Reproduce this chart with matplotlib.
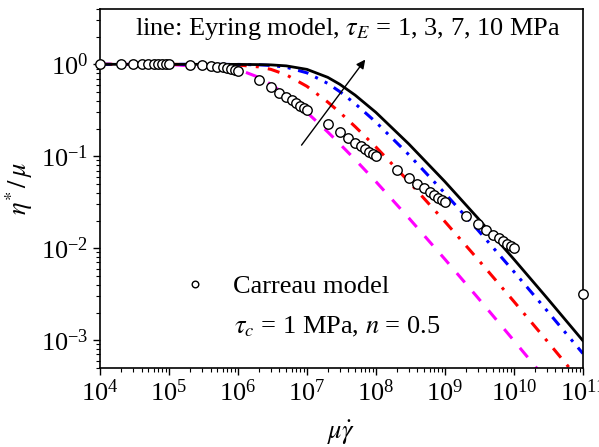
import matplotlib
matplotlib.use('Agg')
import matplotlib.pyplot as plt
from matplotlib.ticker import LogLocator, NullFormatter
import numpy as np

plt.rcParams['font.family'] = ['Liberation Serif', 'DejaVu Serif']
plt.rcParams['mathtext.fontset'] = 'stix'

# Carreau model points (tau_c = 1 MPa, n = 0.5)
carreau_x = [1e4, 2e4, 3e4, 4e4, 5e4, 6e4, 7e4, 8e4, 9e4, 1e5,
             2e5, 3e5, 4e5, 5e5, 6e5, 7e5, 8e5, 9e5, 1e6,
             2e6, 3e6, 4e6, 5e6, 6e6, 7e6, 8e6, 9e6, 1e7,
             2e7, 3e7, 4e7, 5e7, 6e7, 7e7, 8e7, 9e7, 1e8,
             2e8, 3e8, 4e8, 5e8, 6e8, 7e8, 8e8, 9e8, 1e9,
             2e9, 3e9, 4e9, 5e9, 6e9, 7e9, 8e9, 9e9, 1e10,
             1e11]
carreau_y = [1.0, 1.0, 1.0, 1.0, 1.0, 1.0, 1.0, 1.0, 1.0, 0.997,
             0.990, 0.979, 0.964, 0.946, 0.926, 0.905, 0.884, 0.862, 0.841,
             0.669, 0.562, 0.492, 0.443, 0.405, 0.376, 0.352, 0.332, 0.316,
             0.223, 0.183, 0.158, 0.141, 0.129, 0.120, 0.112, 0.105, 0.100,
             0.0707, 0.0577, 0.050, 0.0447, 0.0408, 0.0378, 0.0354, 0.0333, 0.0316,
             0.0224, 0.0183, 0.0158, 0.0141, 0.0129, 0.0120, 0.0112, 0.0105, 0.010,
             0.00316]

# Eyring model lines
eyring_x = [1e4, 1e5, 1e6, 2e6, 3e6, 5e6, 1e7, 2e7, 3e7, 5e7, 1e8,
            3e8, 1e9, 3e9, 1e10, 3e10, 1e11]
eyring_1 = [1.0, 0.998, 0.881, 0.722, 0.606, 0.462, 0.300, 0.184, 0.136, 0.092, 0.053,
            0.0213, 0.0076, 0.0029, 9.9e-4, 3.67e-4, 1.22e-4]
eyring_3 = [1.0, 1.0, 0.982, 0.938, 0.881, 0.770, 0.576, 0.389, 0.300, 0.210, 0.126,
            0.053, 0.0195, 0.0076, 0.00264, 9.9e-4, 3.33e-4]
eyring_7 = [1.0, 1.0, 0.997, 0.987, 0.972, 0.930, 0.808, 0.620, 0.504, 0.373, 0.235,
            0.104, 0.0396, 0.0158, 0.00557, 0.00211, 7.18e-4]
eyring_10 = [1.0, 1.0, 0.998, 0.993, 0.986, 0.962, 0.881, 0.722, 0.606, 0.462, 0.300,
             0.136, 0.053, 0.0213, 0.0076, 0.0029, 9.9e-4]

fs = 19

fig = plt.figure(figsize=(5.99, 4.47), dpi=100)
ax = fig.add_axes([0.167, 0.177, 0.806, 0.803])

ax.plot(eyring_x, eyring_1, color='#ff00ff', lw=2.2, dashes=(4, 4))
ax.plot(eyring_x, eyring_3, color='#ff0000', lw=2.2, dashes=(4, 3, 1, 3))
ax.plot(eyring_x, eyring_7, color='#0000ff', lw=2.2, dashes=(3.5, 2.5, 1, 2.5, 1, 2.5))
ax.plot(eyring_x, eyring_10, color='black', lw=2)
ax.plot(carreau_x, carreau_y, 'o', mfc='white', mec='black', ms=6.8, mew=1,
        clip_on=False, zorder=5, label='Carreau model')

ax.set_xscale('log')
ax.set_yscale('log')
ax.set_xlim(1e4, 1e11)
ax.set_ylim(5e-4, 4)
ax.xaxis.set_major_locator(LogLocator(base=10, numticks=20))
ax.xaxis.set_minor_locator(LogLocator(base=10, subs=np.arange(2, 10), numticks=20))
ax.xaxis.set_minor_formatter(NullFormatter())

ax.tick_params(which='both', direction='out', labelsize=fs, top=False, right=False)
ax.tick_params(which='major', length=5, width=1)
ax.tick_params(which='minor', length=3, width=0.8)
for s in ax.spines.values():
    s.set_linewidth(1.2)

ax.set_xlabel(r'$\mu\dot{\gamma}$', fontsize=fs, labelpad=9)
ax.set_ylabel(r'$\eta^{*}\,/\,\mu$', fontsize=fs, labelpad=4)

ax.text(0.072, 0.944, r'line: Eyring model, $\tau_E$ = 1, 3, 7, 10 MPa',
        transform=ax.transAxes, fontsize=fs, va='center', ha='left')

ax.annotate('', xy=(7.4e7, 1.19), xytext=(7.9e6, 0.125),
            arrowprops=dict(arrowstyle='-|>', color='black', lw=1, mutation_scale=13))

leg = ax.legend(loc='center left', bbox_to_anchor=(0.155, 0.226), frameon=False,
                fontsize=fs, markerscale=0.7, handlelength=1.5, handletextpad=0.7,
                borderaxespad=0, borderpad=0)
ax.text(0.277, 0.114, r'$\tau_c$ = 1 MPa, $n$ = 0.5', transform=ax.transAxes,
        fontsize=fs, va='center', ha='left')

fig.savefig('out.png', dpi=100)
